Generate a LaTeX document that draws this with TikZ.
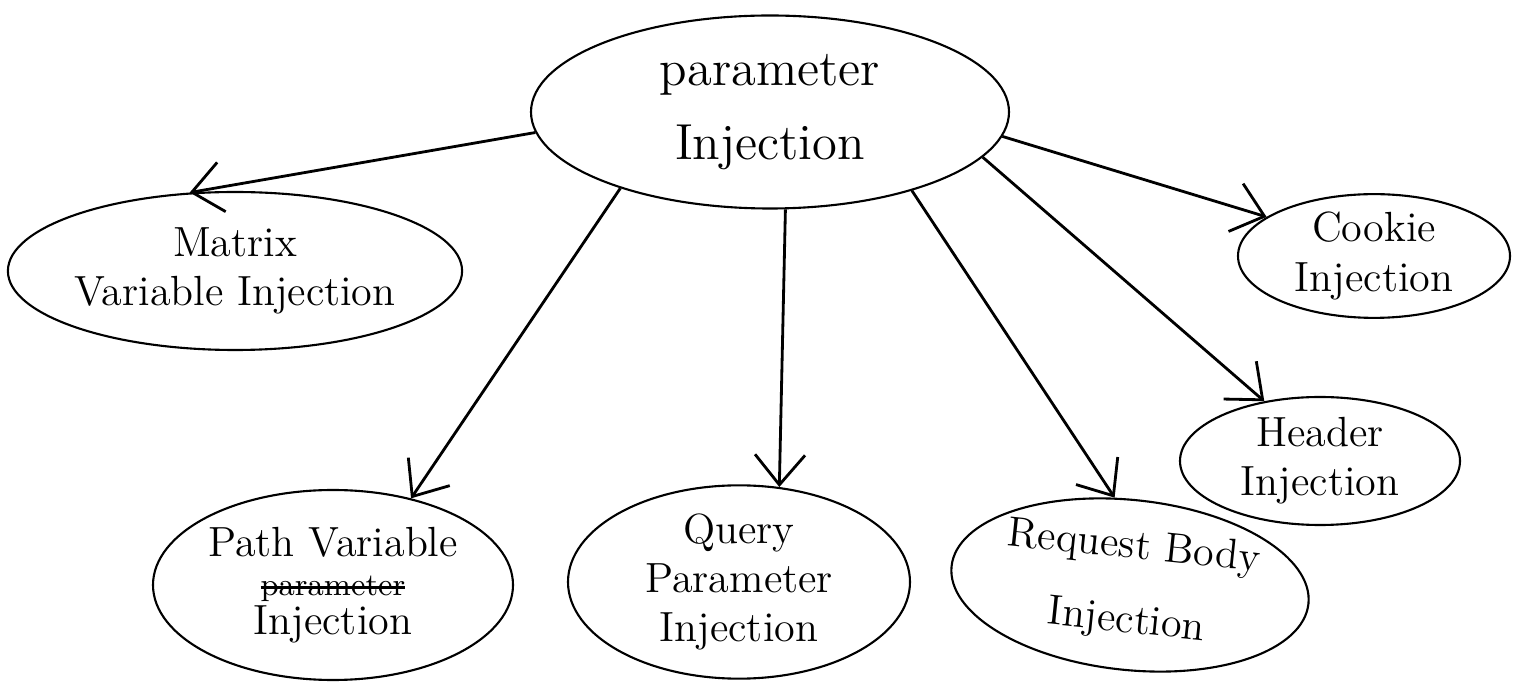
\documentclass[tikz,border=0pt]{standalone}
\usetikzlibrary{shapes.geometric,arrows.meta}
\newsavebox{\strikebox}
\newcommand{\struckout}[1]{\sbox{\strikebox}{#1}\rlap{\rule[0.5ex]{\wd\strikebox}{0.8pt}}\usebox{\strikebox}}
\tikzset{
  topic/.style={draw,ellipse,semithick,inner sep=0pt,align=center,font=\Large},
  sub/.style={draw,ellipse,semithick,inner sep=0pt,align=center,font=\large},
  link/.style={thick,-{Straight Barb[length=3mm,width=5mm]}}
}
\begin{document}
\begin{tikzpicture}
\useasboundingbox (0,0) rectangle (15.24,6.84);
\node[topic,minimum width=4.78cm,minimum height=1.93cm] (param) at (7.70,5.72) {parameter\\[1mm]Injection};
\node[sub,minimum width=4.46cm,minimum height=1.58cm] (matrix) at (2.35,4.13) {Matrix\\Variable Injection};
\node[sub,minimum width=2.72cm,minimum height=1.17cm] (cookie) at (13.74,4.28) {Cookie\\Injection};
\node[sub,minimum width=2.80cm,minimum height=1.28cm] (header) at (13.20,2.23) {Header\\Injection};
\node[sub,minimum width=3.60cm,minimum height=1.90cm] (path) at (3.33,0.99) {Path Variable\\[-1mm]{\small\struckout{parameter}}\\[-1mm]Injection};
\node[sub,minimum width=3.42cm,minimum height=1.79cm] (query) at (7.39,1.02) {Query\\Parameter\\Injection};
\node[sub,minimum width=3.30cm,minimum height=1.70cm,rotate=-6] (body) at (11.30,0.99) {Request Body\\[2.5mm]Injection};
% arrows out of the top node
\draw[link] (param.185) -- (matrix.120);
\draw[link] (param.207) -- (path.48);
\draw[link] (param.279) -- (query.67);
\draw[link] (param.331) -- (body.106);
\draw[link] (param.348) -- (header.133);
\draw[link] (param.354) -- (cookie.160);
\end{tikzpicture}
\end{document}
